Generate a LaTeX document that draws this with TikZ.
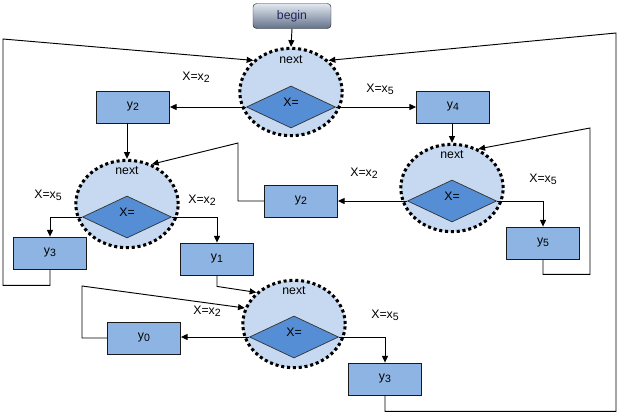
\documentclass[tikz,border=0pt]{standalone}
\usepackage{fontspec}
\setmainfont{Liberation Sans}
\usetikzlibrary{arrows.meta, shapes.geometric}
\tikzset{every node/.style={font=\fontsize{10.5}{12}\selectfont}}
\newcommand{\lowidx}[1]{\raisebox{-0.3ex}{\fontsize{9}{10}\selectfont #1}}
\definecolor{nextfill}{HTML}{C6D9F1}
\definecolor{testfill}{HTML}{558ED5}
\definecolor{boxfill}{HTML}{8DB4E2}
\definecolor{begintop}{HTML}{E2E8F0}
\definecolor{beginbot}{HTML}{63728A}
\definecolor{begintext}{HTML}{1F2A5C}
\tikzset{
  startbox/.style={rectangle, rounded corners=3pt, draw=black!85, top color=begintop, bottom color=beginbot, text=begintext, minimum width=2.34cm, minimum height=0.75cm, inner sep=0pt},
  nextstate/.style={ellipse, draw, fill=nextfill, line width=2.6pt, dash pattern=on 2.6pt off 2.4pt, minimum width=3.07cm, minimum height=2.62cm, inner sep=0pt},
  test/.style={diamond, draw=black!80, line width=0.6pt, fill=testfill, minimum width=2.67cm, minimum height=1.26cm, inner sep=0pt},
  outbox/.style={rectangle, draw=black!90, line width=0.7pt, fill=boxfill, minimum width=2.19cm, minimum height=0.96cm, inner sep=0pt},
  flow/.style={->, line width=0.8pt}
}

\begin{document}
\begin{tikzpicture}[x=0.03cm, y=-0.03cm, >={Triangle[length=2mm, width=1.8mm]}]
\useasboundingbox (0,0) rectangle (620,415);

% Start
\node[startbox] (begin) at (292,16) {begin};

% Decision states
\node[nextstate] (c1) at (291,92) {};
\node[nextstate] (c2) at (127,204) {};
\node[nextstate] (c3) at (452,188) {};
\node[nextstate] (c4) at (294,324) {};
\node (n1) at (291,60) {next};
\node (n2) at (127,171) {next};
\node (n3) at (452,155) {next};
\node (n4) at (294,291) {next};

% Tests
\node[test] (d1) at (291,107) {};
\node[test] (d2) at (127,217) {};
\node[test] (d3) at (452,201) {};
\node[test] (d4) at (294,337) {};
\foreach \d in {1,...,4} {
  \node (x\d) at ([yshift=1.5mm]d\d.center) {X=};
}

% Outputs
\node[outbox] (y2top) at (133,107) {y\lowidx{2}};
\node[outbox] (y4)    at (453,107) {y\lowidx{4}};
\node[outbox] (y3left) at (50,253) {y\lowidx{3}};
\node[outbox] (y1)    at (217,259) {y\lowidx{1}};
\node[outbox] (y2mid) at (301,201) {y\lowidx{2}};
\node[outbox] (y5)    at (543,243) {y\lowidx{5}};
\node[outbox] (y0)    at (144,338) {y\lowidx{0}};
\node[outbox] (y3bot) at (385,379) {y\lowidx{3}};

% Branch labels
\node (l1a) at (196,77) {X=x\lowidx{2}};
\node (l1b) at (380,89) {X=x\lowidx{5}};
\node (l2a) at (48,195) {X=x\lowidx{5}};
\node (l2b) at (202,200) {X=x\lowidx{2}};
\node (l3a) at (364,173) {X=x\lowidx{2}};
\node (l3b) at (543,179) {X=x\lowidx{5}};
\node (l4a) at (207,311) {X=x\lowidx{2}};
\node (l4b) at (385,315) {X=x\lowidx{5}};

% Branches
\draw[flow] (begin.south) -- (c1.north);
\draw[flow] (d1.west) -- (d1.west -| y2top.east);
\draw[flow] (d1.east) -- (d1.east -| y4.west);
\draw[flow] (c2.north |- y2top.south) -- (c2.north);
\draw[flow] (c3.north |- y4.south) -- (c3.north);
\draw[flow] (d2.west) -| (y3left.north);
\draw[flow] (d2.east) -| (y1.north);
\draw[flow] (d3.west) -- (d3.west -| y2mid.east);
\draw[flow] (d3.east) -| (y5.north);
\draw[flow] (d4.west) -- (d4.west -| y0.east);
\draw[flow] (d4.east) -| (y3bot.north);

% Loops back
\coordinate (k5) at (590,128);
\draw[flow] (y5.south) -- ++(0,15) -| (k5) -- (c3.56);
\coordinate (kmid) at (238,143);
\draw[flow] (y2mid.west) -| (kmid) -- (c2.58);
\coordinate (kleft) at (3,39);
\draw[flow] (y3left.south) -- ++(0,16) -| (kleft) -- (c1.140);
\coordinate (kright) at (616,33);
\draw[flow] (y3bot.south) -- ++(0,16) -| (kright) -- (c1.40);
\draw[flow] (y1.south) -- ++(0,11) -- (c4.140);
\coordinate (kzero) at (82,286);
\draw[flow] (y0.west) -| (kzero) -- (c4.162);

\end{tikzpicture}
\end{document}
